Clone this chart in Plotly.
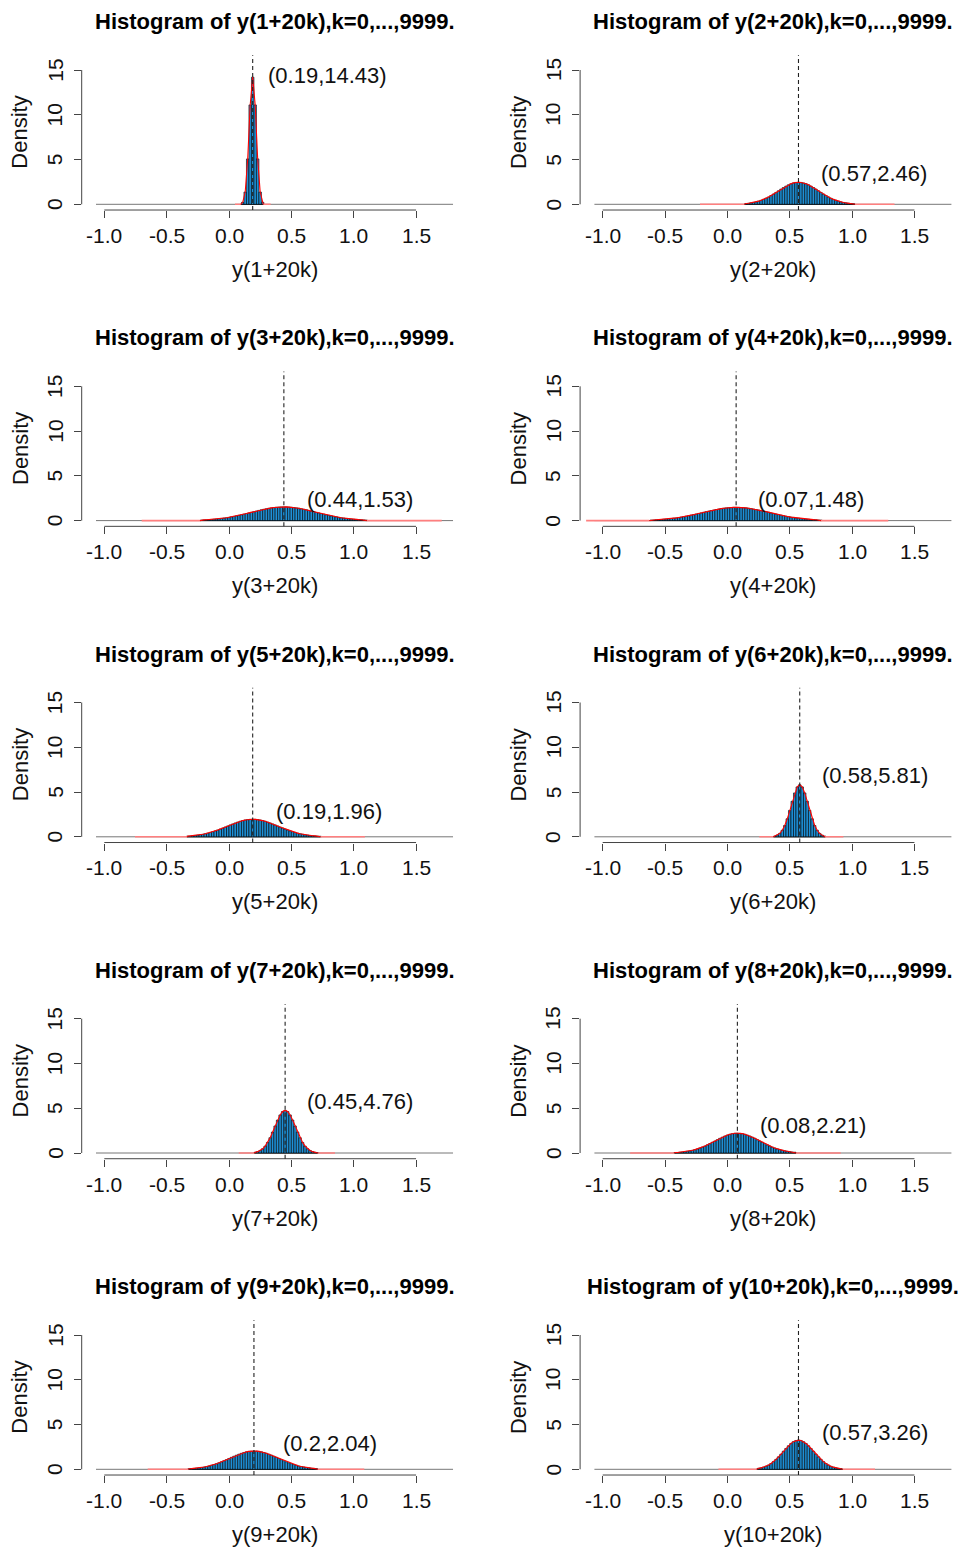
import plotly.graph_objects as go

# ---------------- data ----------------
titles = [f"Histogram of y({i}+20k),k=0,...,9999." for i in range(1, 11)]
xlabels = [f"y({i}+20k)" for i in range(1, 11)]
means = [0.19, 0.57, 0.44, 0.07, 0.19, 0.58, 0.45, 0.08, 0.2, 0.57]
peaks = [14.43, 2.46, 1.53, 1.48, 1.96, 5.81, 4.76, 2.21, 2.04, 3.26]
peak_labels = ["(0.19,14.43)", "(0.57,2.46)", "(0.44,1.53)", "(0.07,1.48)", "(0.19,1.96)",
               "(0.58,5.81)", "(0.45,4.76)", "(0.08,2.21)", "(0.2,2.04)", "(0.57,3.26)"]
label_x = [0.297, 0.735, 0.609, 0.233, 0.358, 0.743, 0.609, 0.243, 0.417, 0.743]
label_y = [14.44, 3.41, 2.40, 2.31, 2.79, 6.89, 5.70, 3.12, 2.90, 4.14]

bin_width = 0.02
first_bin_center = [0.11, 0.15, -0.22, -0.61, -0.33, 0.38, 0.21, -0.42, -0.32, 0.25]

dens1 = [0.22, 1.37, 5.07, 11.1, 14.2, 11.1, 5.07, 1.37, 0.22]
dens2 = [0.09, 0.12, 0.16, 0.21, 0.27, 0.35, 0.45, 0.55, 0.68, 0.82, 0.98, 1.15, 1.33, 1.51, 1.70,
         1.87, 2.03, 2.18, 2.30, 2.39, 2.44, 2.46, 2.44, 2.39, 2.30, 2.18, 2.03, 1.87, 1.70, 1.51,
         1.33, 1.15, 0.98, 0.82, 0.68, 0.55, 0.45, 0.35, 0.27, 0.21, 0.16, 0.12, 0.09, 0.06]
dens3 = [0.06, 0.08, 0.09, 0.11, 0.13, 0.15, 0.18, 0.21, 0.24, 0.28, 0.32, 0.37, 0.42, 0.47, 0.53,
         0.59, 0.65, 0.72, 0.79, 0.86, 0.93, 1.00, 1.07, 1.14, 1.21, 1.27, 1.32, 1.38, 1.42, 1.46,
         1.49, 1.51, 1.53, 1.53, 1.53, 1.51, 1.49, 1.46, 1.42, 1.38, 1.32, 1.27, 1.21, 1.14, 1.07,
         1.00, 0.93, 0.86, 0.79, 0.72, 0.65, 0.59, 0.53, 0.47, 0.42, 0.37, 0.32, 0.28, 0.24, 0.21,
         0.18, 0.15, 0.13, 0.11, 0.09, 0.08, 0.06]
dens4 = [0.06, 0.07, 0.09, 0.11, 0.12, 0.15, 0.17, 0.20, 0.23, 0.27, 0.30, 0.35, 0.39, 0.44, 0.49,
         0.55, 0.61, 0.67, 0.73, 0.80, 0.86, 0.93, 1.00, 1.06, 1.12, 1.18, 1.24, 1.29, 1.34, 1.38,
         1.42, 1.44, 1.46, 1.48, 1.48, 1.48, 1.46, 1.44, 1.42, 1.38, 1.34, 1.29, 1.24, 1.18, 1.12,
         1.06, 1.00, 0.93, 0.86, 0.80, 0.73, 0.67, 0.61, 0.55, 0.49, 0.44, 0.39, 0.35, 0.30, 0.27,
         0.23, 0.20, 0.17, 0.15, 0.12, 0.11, 0.09, 0.07, 0.06]
dens5 = [0.08, 0.10, 0.12, 0.15, 0.19, 0.23, 0.28, 0.34, 0.41, 0.49, 0.57, 0.66, 0.76, 0.87, 0.98,
         1.09, 1.21, 1.33, 1.44, 1.55, 1.65, 1.74, 1.81, 1.88, 1.92, 1.95, 1.96, 1.95, 1.92, 1.88,
         1.81, 1.74, 1.65, 1.55, 1.44, 1.33, 1.21, 1.09, 0.98, 0.87, 0.76, 0.66, 0.57, 0.49, 0.41,
         0.34, 0.28, 0.23, 0.19, 0.15, 0.12, 0.10, 0.08, 0.06]
dens6 = [0.08, 0.19, 0.38, 0.73, 1.26, 2.01, 2.95, 3.97, 4.90, 5.57, 5.81, 5.57, 4.90, 3.97, 2.95,
         2.01, 1.26, 0.73, 0.38, 0.19, 0.08]
dens7 = [0.08, 0.15, 0.28, 0.47, 0.77, 1.18, 1.71, 2.34, 3.02, 3.68, 4.25, 4.63, 4.76, 4.63, 4.25,
         3.68, 3.02, 2.34, 1.71, 1.18, 0.77, 0.47, 0.28, 0.15, 0.08, 0.04]
dens8 = [0.05, 0.06, 0.09, 0.11, 0.15, 0.19, 0.24, 0.30, 0.38, 0.46, 0.56, 0.66, 0.78, 0.91, 1.05,
         1.20, 1.34, 1.49, 1.64, 1.77, 1.90, 2.00, 2.09, 2.16, 2.20, 2.21, 2.20, 2.16, 2.09, 2.00,
         1.90, 1.77, 1.64, 1.49, 1.34, 1.20, 1.05, 0.91, 0.78, 0.66, 0.56, 0.46, 0.38, 0.30, 0.24,
         0.19, 0.15, 0.11, 0.09]
dens9 = [0.06, 0.08, 0.10, 0.13, 0.16, 0.20, 0.25, 0.31, 0.37, 0.45, 0.53, 0.63, 0.73, 0.84, 0.96,
         1.08, 1.21, 1.34, 1.46, 1.58, 1.69, 1.79, 1.88, 1.95, 2.00, 2.03, 2.04, 2.03, 2.00, 1.95,
         1.88, 1.79, 1.69, 1.58, 1.46, 1.34, 1.21, 1.08, 0.96, 0.84, 0.73, 0.63, 0.53, 0.45, 0.37,
         0.31, 0.25, 0.20, 0.16, 0.13, 0.10, 0.08]
dens10 = [0.11, 0.16, 0.24, 0.34, 0.48, 0.65, 0.86, 1.11, 1.39, 1.69, 2.02, 2.33, 2.63, 2.89, 3.09,
          3.22, 3.26, 3.22, 3.09, 2.89, 2.63, 2.33, 2.02, 1.69, 1.39, 1.11, 0.86, 0.65, 0.48, 0.34,
          0.24, 0.16, 0.11, 0.07]
densities = [dens1, dens2, dens3, dens4, dens5, dens6, dens7, dens8, dens9, dens10]

# range of non-empty histogram bins and of the kernel-density curve
data_min = [0.094, 0.136, -0.233, -0.625, -0.337, 0.369, 0.203, -0.425, -0.325, 0.235]
data_max = [0.275, 1.024, 1.104, 0.75, 0.733, 0.783, 0.711, 0.551, 0.711, 0.925]
dens_from = [0.048, -0.22, -0.70, -1.133, -0.754, 0.256, 0.078, -0.78, -0.652, -0.072]
dens_to = [0.334, 1.34, 1.706, 1.29, 1.09, 0.93, 0.85, 0.909, 1.085, 1.184]
hist_span = [-1.0665, 1.7965]

x_ticks = [-1.0, -0.5, 0.0, 0.5, 1.0, 1.5]
x_tick_text = ["-1.0", "-0.5", "0.0", "0.5", "1.0", "1.5"]
y_ticks = [0, 5, 10, 15]
y_tick_text = ["0", "5", "10", "15"]

# ---------------- layout geometry (pixels) ----------------
W, H = 964, 1548
FONT = "Liberation Sans, Arial, sans-serif"
BLUE = "rgb(30,144,215)"
AX = "#444444"
PXU_X = 124.7
PXU_Y = 8.953
col_left = [81.7, 580.1]
col_tick0 = [104.3, 602.7]
col_right = [467.3, 964.0]
row_y0 = [204.3, 520.6, 836.8, 1153.0, 1469.3]
Y_LO, Y_HI = -0.64, 16.64


def px(xp):
    return xp / W


def py(yp):
    return 1 - yp / H


fig = go.Figure()
annotations = []
shapes = []
layout = {}

for i in range(10):
    r, c = i // 2, i % 2
    n = i + 1
    xa = "x" if n == 1 else f"x{n}"
    ya = "y" if n == 1 else f"y{n}"
    xkey = "xaxis" if n == 1 else f"xaxis{n}"
    ykey = "yaxis" if n == 1 else f"yaxis{n}"
    y0 = row_y0[r]
    xl = -1.0 - (col_tick0[c] - col_left[c]) / PXU_X
    xr = xl + (col_right[c] - col_left[c]) / PXU_X
    top_px = y0 - Y_HI * PXU_Y
    bot_px = y0 - Y_LO * PXU_Y

    layout[xkey] = dict(domain=[px(col_left[c]), px(col_right[c])], range=[xl, xr],
                        anchor=ya, showgrid=False, zeroline=False, showline=False,
                        tickmode="array", tickvals=x_ticks, showticklabels=False,
                        ticks="outside", ticklen=7, tickwidth=1, tickcolor=AX, fixedrange=True)
    layout[ykey] = dict(domain=[py(bot_px), py(top_px)], range=[Y_LO, Y_HI],
                        anchor=xa, showgrid=False, zeroline=False, showline=False,
                        tickmode="array", tickvals=y_ticks, showticklabels=False,
                        ticks="outside", ticklen=7, tickwidth=1, tickcolor=AX, fixedrange=True)

    # axis lines (R style: only between extreme ticks)
    shapes.append(dict(type="line", xref=xa, yref=f"{ya} domain", x0=x_ticks[0], x1=x_ticks[-1],
                       y0=0, y1=0, line=dict(color=AX, width=1)))
    shapes.append(dict(type="line", xref=f"{xa} domain", yref=ya, x0=0, x1=0,
                       y0=y_ticks[0], y1=y_ticks[-1], line=dict(color=AX, width=1)))
    # zero-height histogram cells
    shapes.append(dict(type="line", xref=xa, yref=ya, x0=hist_span[0], x1=hist_span[1],
                       y0=0, y1=0, layer="below", line=dict(color="#777777", width=1)))
    shapes.append(dict(type="line", xref=xa, yref=ya, x0=data_min[i], x1=data_max[i],
                       y0=0, y1=0, layer="below", line=dict(color="#111111", width=1)))
    # mean line
    shapes.append(dict(type="line", xref=xa, yref=f"{ya} domain", x0=means[i], x1=means[i],
                       y0=0, y1=1, line=dict(color="#222222", width=1.1, dash="4px,3px")))

    vals = densities[i]
    centers = [first_bin_center[i] + k * bin_width for k in range(len(vals))]
    fig.add_trace(go.Bar(x=centers, y=vals, width=bin_width, xaxis=xa, yaxis=ya,
                         marker=dict(color=BLUE, line=dict(color="black", width=0.6)),
                         showlegend=False, hoverinfo="skip"))
    # density curve: light tails over the baseline, red core
    fig.add_trace(go.Scatter(x=[dens_from[i], data_min[i]], y=[0, 0], mode="lines",
                             line=dict(color="#FF7F7F", width=1.6), xaxis=xa, yaxis=ya,
                             showlegend=False, hoverinfo="skip"))
    fig.add_trace(go.Scatter(x=[data_max[i], dens_to[i]], y=[0, 0], mode="lines",
                             line=dict(color="#FF7F7F", width=1.6), xaxis=xa, yaxis=ya,
                             showlegend=False, hoverinfo="skip"))
    fig.add_trace(go.Scatter(x=[data_min[i]] + centers + [data_max[i]], y=[0] + vals + [0],
                             mode="lines", line=dict(color="#FF0000", width=1.1),
                             xaxis=xa, yaxis=ya, showlegend=False, hoverinfo="skip"))

    cx = (col_left[c] + col_left[c] + 385.6) / 2
    # title
    annotations.append(dict(text=f"<b>{titles[i]}</b>", xref="paper", yref="paper",
                            x=px(cx), y=py(y0 - 182.6), xanchor="center", yanchor="middle",
                            showarrow=False, font=dict(family=FONT, size=22, color="black")))
    # x label
    annotations.append(dict(text=xlabels[i], xref="paper", yref="paper",
                            x=px(cx), y=py(y0 + 65.0), xanchor="center", yanchor="middle",
                            showarrow=False, font=dict(family=FONT, size=22, color="#111111")))
    # y label
    annotations.append(dict(text="Density", xref="paper", yref="paper",
                            x=px(col_left[c] - 61.7), y=py(y0 - 71.6), textangle=-90,
                            xanchor="center", yanchor="middle", showarrow=False,
                            font=dict(family=FONT, size=22, color="#111111")))
    for tv, tt in zip(x_ticks, x_tick_text):
        annotations.append(dict(text=tt, xref=xa, yref="paper", x=tv, y=py(y0 + 31.0),
                                xanchor="center", yanchor="middle", showarrow=False,
                                font=dict(family=FONT, size=21, color="#111111")))
    for tv, tt in zip(y_ticks, y_tick_text):
        annotations.append(dict(text=tt, xref="paper", yref=ya, x=px(col_left[c] - 27.0), y=tv,
                                textangle=-90, xanchor="center", yanchor="middle",
                                showarrow=False, font=dict(family=FONT, size=21, color="#111111")))
    annotations.append(dict(text=peak_labels[i], xref=xa, yref=ya, x=label_x[i], y=label_y[i],
                            xanchor="left", yanchor="middle", showarrow=False,
                            font=dict(family=FONT, size=22, color="#111111")))

fig.update_layout(width=W, height=H, margin=dict(l=0, r=0, t=0, b=0),
                  paper_bgcolor="white", plot_bgcolor="white", barmode="overlay",
                  annotations=annotations, shapes=shapes, **layout)
fig.write_html("out.html", config={"displayModeBar": False, "staticPlot": True},
               post_script="document.body.style.margin='0';document.body.style.overflow='hidden';")
